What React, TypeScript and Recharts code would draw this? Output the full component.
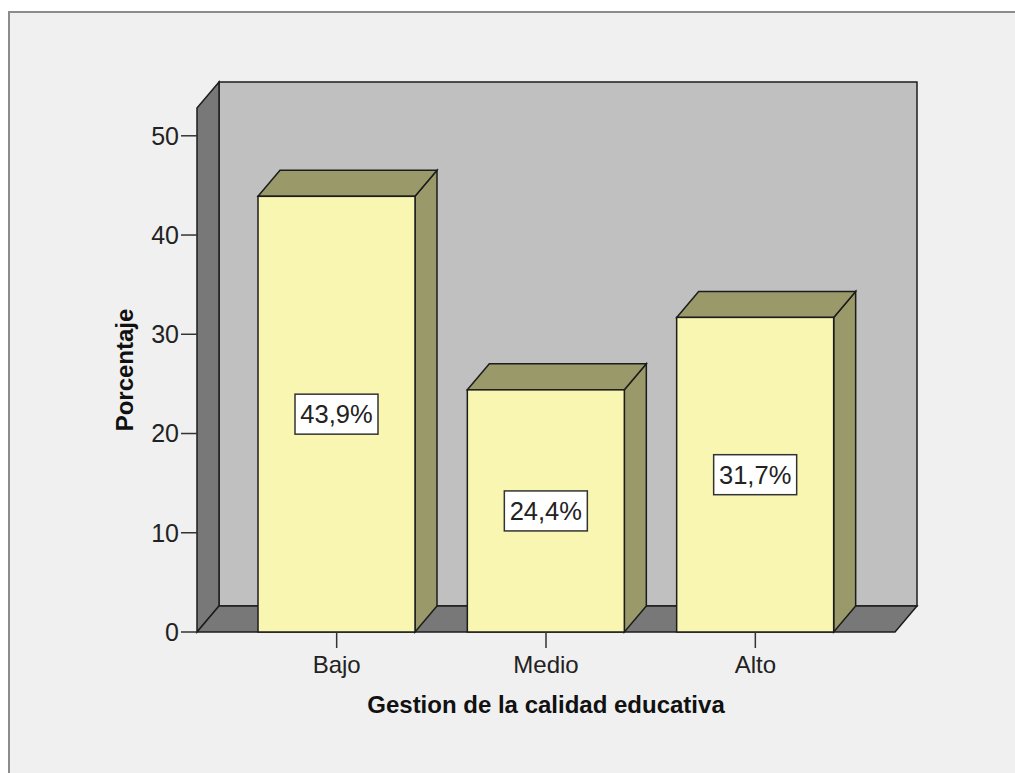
import { BarChart, Bar, XAxis, YAxis, ReferenceArea, LabelList } from 'recharts';

const CATEGORIES = ['Bajo', 'Medio', 'Alto'];
const PERCENTAGES = [43.9, 24.4, 31.7];
const VALUE_LABELS = ['43,9%', '24,4%', '31,7%'];
const Y_TICKS = [0, 10, 20, 30, 40, 50];
const Y_MAX = 52.8;

// profundidad del efecto 3D
const DX = 22;
const DY = -26;
const PAD = 35;

const FONT = '"Liberation Sans", Arial, sans-serif';
const EDGE = '#1c1c1c';

const data = CATEGORIES.map((c, i) => ({
  categoria: c,
  porcentaje: PERCENTAGES[i],
  etiqueta: VALUE_LABELS[i],
}));

// pared del fondo, pared izquierda y piso
function Walls(props: any) {
  const { x, y, width, height } = props;
  const left = x - PAD;
  const right = x + width + PAD;
  const top = y;
  const bottom = y + height;
  return (
    <g>
      <polygon
        points={`${left + DX},${top + DY} ${right + DX},${top + DY} ${right + DX},${bottom + DY} ${left + DX},${bottom + DY}`}
        fill="#c0c0c0"
        stroke={EDGE}
        strokeWidth={1.5}
      />
      <polygon
        points={`${left},${top} ${left + DX},${top + DY} ${left + DX},${bottom + DY} ${left},${bottom}`}
        fill="#787878"
        stroke={EDGE}
        strokeWidth={1.5}
      />
      <polygon
        points={`${left},${bottom} ${right},${bottom} ${right + DX},${bottom + DY} ${left + DX},${bottom + DY}`}
        fill="#787878"
        stroke={EDGE}
        strokeWidth={1.5}
      />
    </g>
  );
}

function Bar3D(props: any) {
  const { x, y, width, height } = props;
  const r = x + width;
  const b = y + height;
  return (
    <g>
      <polygon
        points={`${r},${y} ${r + DX},${y + DY} ${r + DX},${b + DY} ${r},${b}`}
        fill="#9a9969"
        stroke={EDGE}
        strokeWidth={1.5}
      />
      <polygon
        points={`${x},${y} ${r},${y} ${r + DX},${y + DY} ${x + DX},${y + DY}`}
        fill="#9a9969"
        stroke={EDGE}
        strokeWidth={1.5}
      />
      <rect x={x} y={y} width={width} height={height} fill="#f8f6b0" stroke={EDGE} strokeWidth={1.5} />
    </g>
  );
}

function BoxLabel(props: any) {
  const { x, y, width, height, value } = props;
  const cx = x + width / 2;
  const cy = y + height / 2;
  return (
    <g>
      <rect x={cx - 41.5} y={cy - 20} width={83} height={40} fill="#ffffff" stroke="#333" strokeWidth={1.5} />
      <text x={cx} y={cy + 9} textAnchor="middle" fontSize={25.5} fill="#222" fontFamily={FONT}>
        {value}
      </text>
    </g>
  );
}

export default function App() {
  return (
    <div style={{ position: 'absolute', left: 0, top: 0, width: 1015, height: 773, background: '#fff', overflow: 'hidden' }}>
      <div
        style={{
          position: 'absolute',
          left: 8,
          top: 11,
          width: 1030,
          height: 790,
          background: '#f0f0f0',
          border: '2px solid #8c8c8c',
        }}
      />
      <div style={{ position: 'absolute', left: 0, top: 0 }}>
        <BarChart
          width={1015}
          height={773}
          data={data}
          margin={{ top: 108, right: 120, bottom: 101, left: 137 }}
          style={{ fontFamily: FONT }}
        >
          <ReferenceArea y1={0} y2={Y_MAX} shape={<Walls />} ifOverflow="visible" />
          <XAxis
            dataKey="categoria"
            height={40}
            padding={{ left: PAD, right: PAD }}
            axisLine={false}
            tickSize={16}
            tickMargin={8}
            tickLine={{ stroke: '#333', strokeWidth: 1.5 }}
            tick={{ fontSize: 24, fill: '#222' }}
            label={{
              content: (p: any) => {
                const vb = p.viewBox;
                return (
                  <text x={vb.x + vb.width / 2} y={713} textAnchor="middle" fontSize={24} fontWeight="bold" fill="#111" fontFamily={FONT}>
                    Gestion de la calidad educativa
                  </text>
                );
              },
            }}
          />
          <YAxis
            width={60}
            domain={[0, Y_MAX]}
            ticks={Y_TICKS}
            axisLine={false}
            tickSize={16}
            tickMargin={2}
            tickLine={{ stroke: '#333', strokeWidth: 1.5 }}
            tick={{ fontSize: 25, fill: '#222' }}
            label={{
              content: (p: any) => {
                const vb = p.viewBox;
                const cy = vb.y + vb.height / 2;
                return (
                  <text x={133} y={cy} transform={`rotate(-90, 133, ${cy})`} textAnchor="middle" fontSize={24} fontWeight="bold" fill="#111" fontFamily={FONT}>
                    Porcentaje
                  </text>
                );
              },
            }}
          />
          <Bar dataKey="porcentaje" barSize={157} shape={<Bar3D />} isAnimationActive={false}>
            <LabelList dataKey="etiqueta" content={<BoxLabel />} />
          </Bar>
        </BarChart>
      </div>
    </div>
  );
}
